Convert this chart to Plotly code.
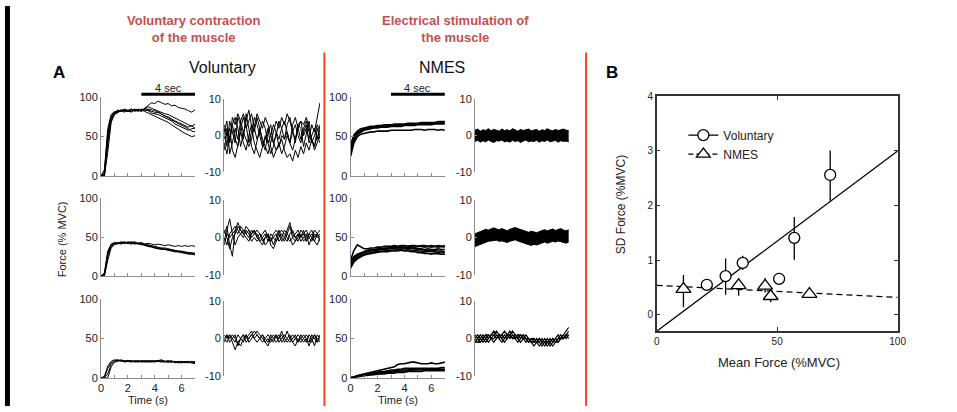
import plotly.graph_objects as go

W, H = 957, 412

# ---------------- DATA ----------------
T_FORCE = [i * 0.25 for i in range(29)]   # 0 .. 7 s
T_RESID = [i * 0.2 for i in range(36)]    # 0 .. 7 s

vol_r1_force = [
    [0, 2, 45, 72, 80, 82, 83, 84, 82, 85, 83, 84, 82, 86, 90, 93, 92, 95, 93, 91, 92, 89, 90, 87, 86, 85, 83, 81, 84],
    [0, 5, 55, 76, 81, 83, 82, 84, 83, 81, 84, 83, 85, 84, 83, 80, 79, 78, 76, 74, 72, 70, 66, 64, 62, 60, 58, 60, 61],
    [0, 0, 40, 70, 79, 82, 84, 82, 83, 85, 82, 84, 83, 86, 84, 82, 83, 81, 78, 77, 74, 71, 69, 67, 64, 62, 60, 57, 56],
    [0, 0, 30, 68, 78, 80, 83, 81, 84, 82, 84, 82, 84, 82, 80, 78, 76, 74, 73, 70, 68, 65, 62, 60, 56, 54, 52, 50, 51],
    [0, 8, 60, 78, 82, 81, 84, 83, 82, 84, 83, 85, 82, 85, 88, 86, 84, 82, 80, 79, 78, 76, 74, 72, 70, 68, 66, 63, 66],
    [0, 3, 50, 74, 80, 84, 82, 85, 83, 82, 85, 83, 84, 83, 85, 84, 80, 81, 79, 76, 75, 72, 70, 68, 66, 63, 62, 64, 60],
]
vol_r1_resid = [
    [2, -3, 4, 1, -2, 5, 3, -1, 6, 2, -3, -5, -1, 2, -2, -4, 1, 3, -2, 0, 4, 2, -1, 3, 5, 1, -2, 3, 4, 0, 2, -1, 3, 1, 5, 9],
    [-4, 1, -2, 3, 5, 2, -3, 1, 4, 7, 3, -2, -4, -6, -3, 0, -2, -5, -3, 1, -1, 2, 4, 1, -2, 3, 5, 2, -1, 1, 3, -2, 0, 2, -1, 3],
    [1, 4, -5, -2, 2, -1, 4, 6, 3, -2, 1, 5, 3, 0, -3, -1, 2, -3, -6, -4, -2, -5, -3, 0, -2, 1, -1, 3, 2, -3, 1, 4, -2, 0, 3, 1],
    [-2, -5, 0, 3, -1, -3, 2, 5, 2, 4, 6, 2, -1, 1, 4, 2, -2, 0, 3, 1, -3, -1, -4, -6, -5, -7, -4, -6, -3, -5, -2, -4, -1, -3, 0, -2],
    [3, 0, 2, -4, -6, -2, 1, -2, -4, 0, 3, 1, 5, 2, -1, -3, -5, -2, 1, 4, 2, 5, 3, 6, 4, 1, 3, 0, -2, 2, 4, 1, -1, -3, 2, -1],
    [-1, 2, -2, 5, 3, 6, 4, 1, -1, -3, -1, 3, 6, 4, 2, 5, 3, 0, -2, -4, -3, 0, -1, 1, -2, -4, -1, 2, 4, 3, 5, 2, -1, -4, -2, 1],
]
vol_r2_force = [
    [0, 3, 30, 40, 42, 43, 42, 44, 42, 43, 44, 42, 43, 41, 42, 41, 40, 41, 40, 39, 40, 39, 38, 39, 38, 39, 38, 39, 38],
    [0, 0, 25, 38, 41, 42, 43, 42, 44, 42, 43, 42, 41, 40, 39, 38, 37, 36, 35, 34, 34, 33, 32, 32, 31, 30, 30, 29, 29],
    [0, 1, 28, 39, 42, 41, 43, 42, 43, 44, 42, 41, 41, 39, 38, 37, 36, 35, 34, 35, 33, 33, 32, 31, 30, 29, 28, 28, 27],
    [0, 0, 20, 36, 40, 42, 41, 43, 42, 41, 42, 42, 40, 40, 38, 38, 36, 35, 35, 34, 33, 32, 31, 31, 30, 30, 29, 28, 28],
    [0, 4, 32, 41, 43, 42, 44, 43, 42, 43, 41, 42, 42, 41, 40, 39, 38, 37, 36, 36, 35, 34, 33, 32, 32, 31, 30, 30, 29],
]
vol_r2_resid = [
    [1, 3, -2, -5, 2, 4, 2, 1, 3, 2, 1, 2, 0, 1, -1, 0, 1, -1, 0, 1, -1, 0, 2, 1, 3, 0, -1, 1, 0, 2, -1, 1, 0, 2, 1, 2],
    [-1, 2, 5, 1, -2, 0, 1, 2, 1, 0, 2, 1, 1, -1, -2, 0, 1, -2, -3, -1, 0, 1, 0, -1, 1, 2, 0, 1, -1, 0, 1, -2, 0, -1, 1, -1],
    [0, -2, 1, 2, 3, 2, 1, 0, 2, 1, -1, 0, -1, 0, 1, 2, 0, -1, 1, 2, 1, -1, 0, 2, 4, 1, 0, -1, 1, -1, 0, 1, 2, 0, 1, 0],
    [2, 0, -3, 0, 1, 3, 2, 1, 0, -1, 1, 2, 0, -1, 0, -2, -1, 1, 0, -1, 1, 2, 1, 0, -1, 0, 1, 2, 0, 1, -1, 0, 1, -1, -2, 0],
    [-2, 1, 0, 1, 2, 1, 3, 2, 1, 2, 0, 1, 2, 1, 0, 1, -1, 0, -2, 0, 2, 0, -1, 1, 0, -2, -1, 0, 2, 1, 2, 0, -1, 1, 0, 1],
]
vol_r3_force = [
    [0, 0, 12, 19, 22, 23, 22, 21, 22, 21, 22, 21, 21, 20, 21, 22, 21, 22, 23, 21, 20, 21, 20, 21, 20, 21, 19, 20, 21],
    [0, 2, 15, 21, 23, 22, 21, 22, 21, 20, 21, 22, 20, 21, 22, 21, 22, 21, 20, 21, 22, 20, 21, 20, 19, 20, 20, 19, 20],
    [0, 0, 5, 17, 21, 22, 22, 20, 21, 22, 20, 21, 22, 21, 20, 21, 20, 22, 21, 20, 21, 22, 19, 20, 21, 19, 20, 21, 19],
    [0, 0, 0, 14, 20, 21, 23, 21, 22, 21, 21, 20, 21, 22, 21, 20, 21, 21, 22, 21, 20, 20, 21, 19, 20, 20, 21, 19, 18],
]
vol_r3_resid = [
    [0, 1, -1, 0, 1, -2, 0, 1, 0, 1, 2, 0, 1, 0, -1, 0, 1, 0, -1, 1, 0, 2, 0, -1, 0, 1, 0, -1, 1, 0, -1, 1, 0, -2, 1, 0],
    [1, 0, 1, -1, -3, -1, 0, -1, 1, 0, 1, 2, 1, 0, 1, -1, 0, -1, 0, 1, -1, 0, 1, 0, 1, -1, 0, 1, 0, 1, 0, -1, 1, 0, -1, 1],
    [-1, 1, 0, 1, 0, -1, -2, 0, 1, -1, 0, 1, 2, 1, 0, -1, -2, 0, 1, 0, 1, -1, 0, 2, 0, -1, -2, 0, -1, 0, 1, 0, -1, 1, 0, -1],
    [0, -1, 1, 0, -1, 1, 0, 1, -1, 0, 1, 0, -1, 0, 1, 0, -1, 1, 0, -1, 0, 1, -1, 0, -1, 0, 1, -1, 0, -1, 0, -2, 0, 1, -1, 0],
]
nmes_r1_force = [
    [40, 52, 57, 60, 61, 62, 63, 63, 64, 64, 65, 65, 65, 66, 66, 66, 66, 67, 67, 67, 67, 68, 68, 68, 68, 68, 69, 69, 69],
    [35, 48, 55, 58, 60, 61, 62, 62, 63, 63, 63, 64, 64, 64, 65, 65, 65, 65, 66, 66, 66, 66, 67, 67, 67, 67, 67, 68, 68],
    [30, 45, 53, 56, 58, 59, 60, 61, 61, 62, 62, 62, 63, 63, 63, 63, 64, 64, 64, 64, 65, 65, 65, 65, 65, 66, 66, 66, 66],
    [25, 42, 50, 53, 54, 55, 56, 56, 57, 57, 57, 57, 58, 58, 58, 58, 58, 58, 58, 59, 59, 59, 58, 59, 59, 59, 58, 59, 58],
    [32, 47, 54, 57, 59, 60, 61, 62, 62, 62, 63, 63, 64, 64, 64, 65, 65, 65, 65, 66, 66, 67, 66, 67, 67, 67, 67, 67, 67],
]
nmes_r1_band_hi = [1.5, 1.8, 1.2, 1.6, 1.4, 1.9, 1.3, 1.7, 1.5, 1.2, 1.8, 1.4, 1.6, 1.3, 1.9, 1.5, 1.2, 1.7,
                   1.4, 1.6, 1.8, 1.3, 1.5, 1.7, 1.2, 1.6, 1.4, 1.9, 1.5, 1.3, 1.7, 1.4, 1.6, 1.8, 1.5, 1.4]
nmes_r1_band_lo = [-1.6, -1.3, -1.8, -1.4, -1.7, -1.2, -1.6, -1.9, -1.4, -1.5, -1.2, -1.7, -1.5, -1.8, -1.3, -1.6, -1.4, -1.9,
                   -1.5, -1.2, -1.7, -1.5, -1.6, -1.3, -1.8, -1.4, -1.6, -1.2, -1.7, -1.5, -1.3, -1.8, -1.4, -1.6, -1.5, -1.7]
nmes_r2_force = [
    [20, 33, 40, 38, 35, 35, 36, 36, 37, 37, 38, 38, 38, 39, 38, 39, 39, 38, 39, 39, 38, 39, 39, 38, 39, 38, 39, 38, 39],
    [18, 25, 28, 30, 32, 33, 34, 34, 35, 35, 36, 36, 37, 37, 37, 38, 37, 38, 38, 37, 38, 38, 37, 38, 37, 38, 37, 38, 37],
    [15, 22, 26, 28, 30, 31, 32, 33, 33, 34, 34, 35, 35, 35, 36, 36, 36, 35, 36, 36, 35, 35, 34, 35, 34, 34, 35, 34, 34],
    [12, 20, 24, 26, 28, 29, 30, 31, 31, 32, 32, 33, 33, 33, 34, 34, 33, 34, 33, 33, 32, 32, 31, 32, 31, 31, 30, 31, 30],
    [16, 23, 27, 29, 31, 32, 33, 33, 34, 35, 35, 35, 36, 36, 37, 36, 36, 37, 36, 35, 34, 34, 33, 33, 32, 33, 32, 32, 31],
    [10, 18, 22, 25, 27, 28, 29, 30, 30, 31, 31, 31, 32, 32, 32, 33, 32, 32, 31, 31, 30, 30, 29, 29, 28, 29, 28, 28, 28],
]
nmes_r2_band_hi = [1.0, 1.2, 1.6, 1.9, 2.2, 2.0, 2.4, 2.6, 2.3, 2.1, 2.4, 2.0, 1.8, 2.2, 2.5, 2.7, 2.4, 2.1,
                   1.9, 1.6, 1.4, 1.7, 1.5, 1.3, 1.6, 1.9, 2.1, 1.8, 2.0, 2.3, 1.9, 2.2, 2.4, 2.0, 1.8, 2.1]
nmes_r2_band_lo = [-2.4, -2.1, -1.8, -1.5, -1.2, -1.0, -0.9, -0.8, -0.7, -1.0, -0.9, -1.1, -1.3, -1.0, -0.8, -0.6, -0.9, -1.2,
                   -1.4, -1.6, -1.9, -2.1, -1.8, -2.0, -1.7, -1.4, -1.2, -1.5, -1.3, -1.0, -1.2, -0.9, -1.1, -1.3, -1.5, -1.2]
nmes_r3_force = [
    [0, 1, 3, 4, 5, 6, 7, 8, 9, 10, 11, 12, 13, 14, 17, 18, 18, 19, 20, 20, 19, 18, 18, 18, 19, 18, 18, 19, 20],
    [0, 1, 2, 3, 4, 5, 6, 6, 7, 8, 8, 9, 10, 10, 11, 11, 12, 12, 12, 12, 12, 12, 12, 12, 12, 12, 12, 13, 13],
    [0, 1, 2, 3, 4, 4, 5, 6, 6, 7, 7, 8, 8, 9, 9, 10, 10, 10, 11, 11, 11, 11, 11, 11, 11, 11, 11, 11, 11],
    [0, 0, 1, 2, 3, 4, 4, 5, 5, 6, 6, 7, 7, 8, 8, 8, 9, 9, 9, 10, 10, 10, 10, 10, 10, 10, 10, 10, 10],
    [0, 1, 2, 2, 3, 3, 4, 4, 5, 5, 5, 6, 6, 6, 7, 7, 7, 8, 8, 8, 8, 8, 9, 9, 9, 9, 9, 9, 9],
]
nmes_r3_resid = [
    [-1, 0, 1, 0, -1, 0, 1, 2, 1, 0, 1, 2, 1, 0, 1, 0, -1, 0, 1, 0, -1, 0, -1, -1, -2, -1, -1, -2, -1, 0, -1, 0, 1, 0, 1, 2],
    [0, 1, 0, -1, 0, 1, 0, 1, 2, 1, 0, 1, 0, 1, 2, 1, 0, 1, 0, -1, 0, -1, 0, -1, -1, 0, -1, -1, -2, -1, 0, -1, 0, 1, 2, 3],
    [1, 0, -1, 0, 1, 1, 0, -1, 0, 1, 0, -1, 0, 1, 0, 1, 0, -1, 0, 1, 0, -1, -2, -1, 0, -1, -2, -1, 0, -1, 0, 1, 0, 0, 1, 1],
    [-1, -1, 0, 1, 0, -1, 0, 0, 1, 0, -1, 0, 1, 2, 1, 0, 1, 0, 1, 0, 0, -1, -1, 0, -1, -2, -1, 0, -1, -2, -1, 0, 0, 1, 0, 1],
    [0, -1, -1, 0, 1, 0, 1, 1, 0, 1, 1, 0, 1, 1, 0, 0, 1, 1, 0, 0, -1, 0, 0, -1, 0, -1, 0, -1, -1, 0, -1, -1, 0, 0, 1, 0],
]

vol_mean = [20.8, 28.6, 35.7, 50.8, 57.1, 72.0]
vol_sd = [0.55, 0.71, 0.95, 0.66, 1.41, 2.56]
vol_err_hi = [0.08, 0.32, 0.13, 0.10, 0.38, 0.45]
vol_err_lo = [0.08, 0.34, 0.13, 0.11, 0.40, 0.47]
nmes_mean = [11.1, 34.0, 45.0, 47.3, 63.4]
nmes_sd = [0.47, 0.54, 0.53, 0.34, 0.38]
nmes_err_hi = [0.26, 0.13, 0.14, 0.10, 0.04]
nmes_err_lo = [0.33, 0.19, 0.12, 0.11, 0.04]
fit_x = [0, 100]
vol_fit_y = [-0.30, 3.00]
nmes_fit_y = [0.54, 0.32]

FORCE_TICKS = [0, 50, 100]
RESID_TICKS = [-10, 0, 10]
RESID_TICKTEXT = ["-10", "0", "10"]
TIME_TICKS = [0, 2, 4, 6]
B_X_TICKS = [0, 50, 100]
B_Y_TICKS = [0, 1, 2, 3, 4]

# ---------------- FIGURE ----------------
def px(x):
    return x / W


def py(y):
    return 1 - y / H


FONT = "Liberation Sans, Arial, sans-serif"
GRAY = "#8c8c8c"
TXT = "#222222"
ORANGE = "rgb(248,68,28)"
RED_TXT = "#C4504E"

fig = go.Figure()
layout = {}
counter = [0]


def new_axes(xdom, ydom, xcfg, ycfg):
    counter[0] += 1
    i = counter[0]
    sx = "" if i == 1 else str(i)
    layout["xaxis" + sx] = dict(domain=[px(xdom[0]), px(xdom[1])], anchor="y" + sx, **xcfg)
    layout["yaxis" + sx] = dict(domain=[py(ydom[1]), py(ydom[0])], anchor="x" + sx, **ycfg)
    return "x" + sx, "y" + sx


def force_axes(xdom, ydom, bottom):
    xcfg = dict(range=[0, 7], showgrid=False, zeroline=False, showline=True, linecolor=GRAY, linewidth=1,
                ticks="inside", ticklen=3, tickcolor=GRAY, tickvals=TIME_TICKS, showticklabels=bottom,
                tickfont=dict(size=11, color=TXT, family=FONT),
                minor=dict(dtick=1, tick0=0, ticks="inside", ticklen=3, tickcolor=GRAY))
    ycfg = dict(range=[0, 100], showgrid=False, zeroline=False, showline=True, linecolor=GRAY, linewidth=1,
                ticks="inside", ticklen=3, tickcolor=GRAY, tickvals=FORCE_TICKS,
                tickfont=dict(size=11, color=TXT, family=FONT))
    return new_axes(xdom, ydom, xcfg, ycfg)


def resid_axes(xdom, ydom):
    xcfg = dict(range=[0, 7], visible=False)
    ycfg = dict(range=[-10, 10], showgrid=False, zeroline=False, showline=True, linecolor=GRAY, linewidth=1,
                ticks="inside", ticklen=2, tickcolor=GRAY, tickvals=RESID_TICKS, ticktext=RESID_TICKTEXT,
                tickfont=dict(size=11, color=TXT, family=FONT))
    return new_axes(xdom, ydom, xcfg, ycfg)


def add_lines(ax, t, series, width):
    for s in series:
        fig.add_trace(go.Scatter(x=t, y=s, mode="lines", line=dict(color="black", width=width),
                                 xaxis=ax[0], yaxis=ax[1], showlegend=False, hoverinfo="skip"))


def add_band(ax, t, lo, hi):
    fig.add_trace(go.Scatter(x=t, y=lo, mode="lines", line=dict(color="black", width=1),
                             xaxis=ax[0], yaxis=ax[1], showlegend=False, hoverinfo="skip"))
    fig.add_trace(go.Scatter(x=t, y=hi, mode="lines", line=dict(color="black", width=1), fill="tonexty",
                             fillcolor="black", xaxis=ax[0], yaxis=ax[1], showlegend=False, hoverinfo="skip"))


FORCE_ROWS = [(94, 175), (198, 278), (302, 383)]
RESID_ROWS = [(96, 171), (200, 277), (304, 381)]
V_FX, V_RX = (99.3, 194.5), (224, 321)
N_FX, N_RX = (352, 447.5), (478, 573)

vol_force = [vol_r1_force, vol_r2_force, vol_r3_force]
vol_resid = [vol_r1_resid, vol_r2_resid, vol_r3_resid]
first_axes = {}
for r in range(3):
    ax = force_axes(V_FX, FORCE_ROWS[r], r == 2)
    if r == 0:
        first_axes["V"] = ax
    add_lines(ax, T_FORCE, vol_force[r], 1)
    ax = resid_axes(V_RX, RESID_ROWS[r])
    add_lines(ax, T_RESID, vol_resid[r], 1)

nmes_force = [nmes_r1_force, nmes_r2_force, nmes_r3_force]
for r in range(3):
    ax = force_axes(N_FX, FORCE_ROWS[r], r == 2)
    if r == 0:
        first_axes["N"] = ax
    add_lines(ax, T_FORCE, nmes_force[r], 1.6)
    ax = resid_axes(N_RX, RESID_ROWS[r])
    if r == 0:
        add_band(ax, T_RESID, nmes_r1_band_lo, nmes_r1_band_hi)
    elif r == 1:
        add_band(ax, T_RESID, nmes_r2_band_lo, nmes_r2_band_hi)
    else:
        add_lines(ax, T_RESID, nmes_r3_resid, 1.2)

bx = dict(range=[0, 100], showgrid=False, zeroline=False, showline=True, mirror="ticks", linecolor="#333",
          linewidth=1.5, ticks="inside", ticklen=4, tickcolor="#333", tickvals=B_X_TICKS,
          tickfont=dict(size=10, color=TXT, family=FONT))
by = dict(range=[-0.3, 4], showgrid=False, zeroline=False, showline=True, mirror="ticks", linecolor="#333",
          linewidth=1.5, ticks="inside", ticklen=4, tickcolor="#333", tickvals=B_Y_TICKS,
          tickfont=dict(size=10, color=TXT, family=FONT))
bax = new_axes((662, 906), (93, 335), bx, by)

fig.add_trace(go.Scatter(x=fit_x, y=vol_fit_y, mode="lines", line=dict(color="black", width=1.3),
                         xaxis=bax[0], yaxis=bax[1], showlegend=False, hoverinfo="skip"))
fig.add_trace(go.Scatter(x=fit_x, y=nmes_fit_y, mode="lines", line=dict(color="black", width=1.3, dash="6px,4px"),
                         xaxis=bax[0], yaxis=bax[1], showlegend=False, hoverinfo="skip"))
fig.add_trace(go.Scatter(x=nmes_mean, y=nmes_sd, mode="markers",
                         marker=dict(symbol="triangle-up", size=13, color="white", line=dict(color="black", width=1.3)),
                         error_y=dict(type="data", array=nmes_err_hi, arrayminus=nmes_err_lo, color="black",
                                      thickness=1.3, width=0),
                         xaxis=bax[0], yaxis=bax[1], showlegend=False, hoverinfo="skip"))
fig.add_trace(go.Scatter(x=vol_mean, y=vol_sd, mode="markers",
                         marker=dict(symbol="circle", size=11, color="white", line=dict(color="black", width=1.3)),
                         error_y=dict(type="data", array=vol_err_hi, arrayminus=vol_err_lo, color="black",
                                      thickness=1.3, width=0),
                         xaxis=bax[0], yaxis=bax[1], showlegend=False, hoverinfo="skip"))
fig.add_trace(go.Scatter(x=[None], y=[None], mode="lines+markers", name="Voluntary",
                         line=dict(color="black", width=1.3),
                         marker=dict(symbol="circle", size=11, color="white", line=dict(color="black", width=1.3)),
                         xaxis=bax[0], yaxis=bax[1]))
fig.add_trace(go.Scatter(x=[None], y=[None], mode="lines+markers", name="NMES",
                         line=dict(color="black", width=1.3, dash="5px,3px"),
                         marker=dict(symbol="triangle-up", size=12, color="white", line=dict(color="black", width=1.3)),
                         xaxis=bax[0], yaxis=bax[1]))

ann = []


def text(x, y, s, size, color=TXT, bold=False, angle=0, xanchor="center", xref="paper"):
    ann.append(dict(x=x if xref != "paper" else px(x), y=py(y), xref=xref, yref="paper",
                    text=("<b>%s</b>" % s) if bold else s,
                    showarrow=False, xanchor=xanchor, yanchor="middle", textangle=angle,
                    font=dict(size=size, color=color, family=FONT)))


text(193, 24, "Voluntary contraction<br>of the muscle", 13, RED_TXT, bold=True)
text(458, 24, "Electrical stimulation of<br>the muscle", 13, RED_TXT, bold=True)
text(57, 69, "A", 17, "black", bold=True)
text(617, 69, "B", 17, "black", bold=True)
text(222, 63, "Voluntary", 16, "#111")
text(445, 63, "NMES", 16, "#111")
text(5, 84, "4 sec", 11, TXT, xref=first_axes["V"][0])
text(5, 84, "4 sec", 11, TXT, xref=first_axes["N"][0])
text(147, 406, "Time (s)", 11)
text(400, 406, "Time (s)", 11)
text(60, 240, "Force (% MVC)", 11, angle=-90)
text(626, 205, "SD Force (%MVC)", 12, angle=-90)
text(786, 367, "Mean Force (%MVC)", 13)

shapes = [
    dict(type="line", xref="paper", yref="paper", x0=px(4.5), x1=px(4.5), y0=0, y1=1,
         line=dict(color="black", width=5)),
    dict(type="line", xref="paper", yref="paper", x0=px(325.5), x1=px(325.5), y0=py(48), y1=0,
         line=dict(color=ORANGE, width=2)),
    dict(type="line", xref="paper", yref="paper", x0=px(590.5), x1=px(590.5), y0=py(48), y1=0,
         line=dict(color=ORANGE, width=2)),
    dict(type="line", xref=first_axes["V"][0], yref="paper", x0=3, x1=7, y0=py(91), y1=py(91),
         line=dict(color="black", width=3)),
    dict(type="line", xref=first_axes["N"][0], yref="paper", x0=3, x1=7, y0=py(91), y1=py(91),
         line=dict(color="black", width=3)),
]

fig.update_layout(**layout)
fig.update_layout(
    width=W, height=H, margin=dict(l=0, r=0, t=0, b=0),
    paper_bgcolor="white", plot_bgcolor="rgba(0,0,0,0)",
    font=dict(family=FONT, color=TXT),
    annotations=ann, shapes=shapes,
    legend=dict(x=px(689), y=py(118), xanchor="left", yanchor="top", bgcolor="rgba(0,0,0,0)",
                font=dict(size=12, color=TXT, family=FONT), tracegroupgap=0, traceorder="normal"),
    showlegend=True,
)

fig.write_html("out.html")
